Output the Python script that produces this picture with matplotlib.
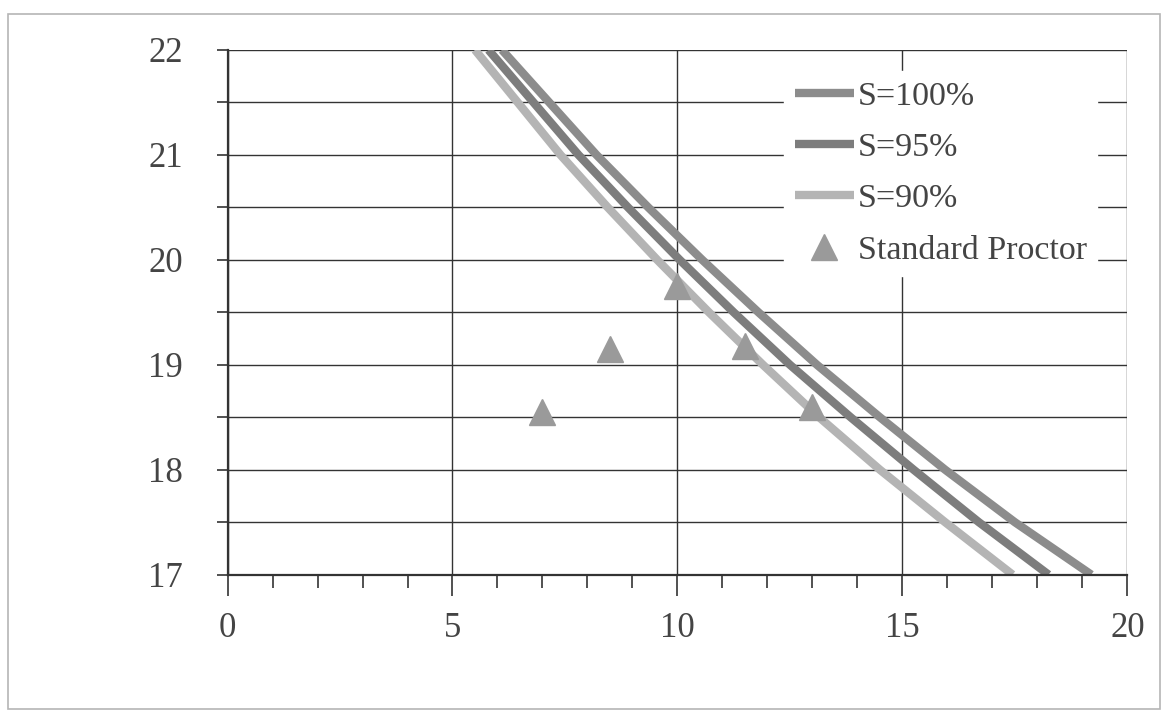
import matplotlib.pyplot as plt
from matplotlib.patches import Rectangle
from matplotlib.ticker import MultipleLocator

plt.rcParams['font.family'] = ['Liberation Serif', 'DejaVu Serif']

# unit weight levels where the saturation curves were read (kN/m3)
gamma_levels = [22, 21.5, 21, 20.5, 20, 19.5, 19, 18.5, 18, 17.5, 17]

# water content (%) for each curve
w_s100 = [6.1, 7.15, 8.2, 9.35, 10.55, 11.8, 13.1, 14.5, 15.95, 17.5, 19.2]
w_s95 = [5.8, 6.8, 7.8, 8.9, 10.05, 11.25, 12.5, 13.85, 15.25, 16.7, 18.25]
w_s90 = [5.5, 6.45, 7.4, 8.45, 9.55, 10.7, 11.9, 13.15, 14.5, 15.95, 17.45]

# standard proctor test points
proctor_w = [7, 8.5, 10, 11.5, 13]
proctor_gamma = [18.55, 19.15, 19.75, 19.18, 18.6]

fig = plt.figure(figsize=(11.61, 7.13), dpi=100)
fig.patches.append(Rectangle((0.007, 0.005), 0.992, 0.975, transform=fig.transFigure,
                             fill=False, edgecolor='#b5b5b5', linewidth=1.2))
ax = fig.add_axes([0.196, 0.194, 0.775, 0.736])

ax.plot(w_s100, gamma_levels, color='#8c8c8c', linewidth=6, label='S=100%', solid_capstyle='butt')
ax.plot(w_s95, gamma_levels, color='#7d7d7d', linewidth=6, label='S=95%', solid_capstyle='butt')
ax.plot(w_s90, gamma_levels, color='#b4b4b4', linewidth=6, label='S=90%', solid_capstyle='butt')
ax.plot(proctor_w, proctor_gamma, linestyle='none', marker='^', markersize=19,
        color='#9a9a9a', label='Standard Proctor', zorder=5)

ax.set_xlim(0, 20)
ax.set_ylim(17, 22)
ax.xaxis.set_major_locator(MultipleLocator(5))
ax.xaxis.set_minor_locator(MultipleLocator(1))
ax.yaxis.set_major_locator(MultipleLocator(1))
ax.yaxis.set_minor_locator(MultipleLocator(0.5))

ax.grid(True, which='major', axis='x', color='#333333', linewidth=1)
ax.grid(True, which='both', axis='y', color='#333333', linewidth=1)
ax.set_axisbelow(True)

for side in ['top', 'right']:
    ax.spines[side].set_visible(False)
for side in ['left', 'bottom']:
    ax.spines[side].set_color('#333333')
    ax.spines[side].set_linewidth(1.6)

ax.tick_params(axis='x', which='major', direction='out', length=15, width=1.2,
               labelsize=25, pad=12, colors='#333333')
ax.tick_params(axis='x', which='minor', direction='out', length=9, width=1.2, colors='#333333')
ax.tick_params(axis='y', which='both', direction='out', length=8, width=1.2,
               labelsize=25, pad=24, colors='#333333')
ax.tick_params(axis='both', labelcolor='#444444')

leg = ax.legend(loc='upper right', bbox_to_anchor=(0.966, 0.96), frameon=True, framealpha=1,
                edgecolor='white', fontsize=24.5, handlelength=1.75, handletextpad=0.1,
                labelspacing=0.6, borderaxespad=0.0, borderpad=0.3)
for t in leg.get_texts():
    t.set_color('#444444')

fig.savefig('out.png', dpi=100)
